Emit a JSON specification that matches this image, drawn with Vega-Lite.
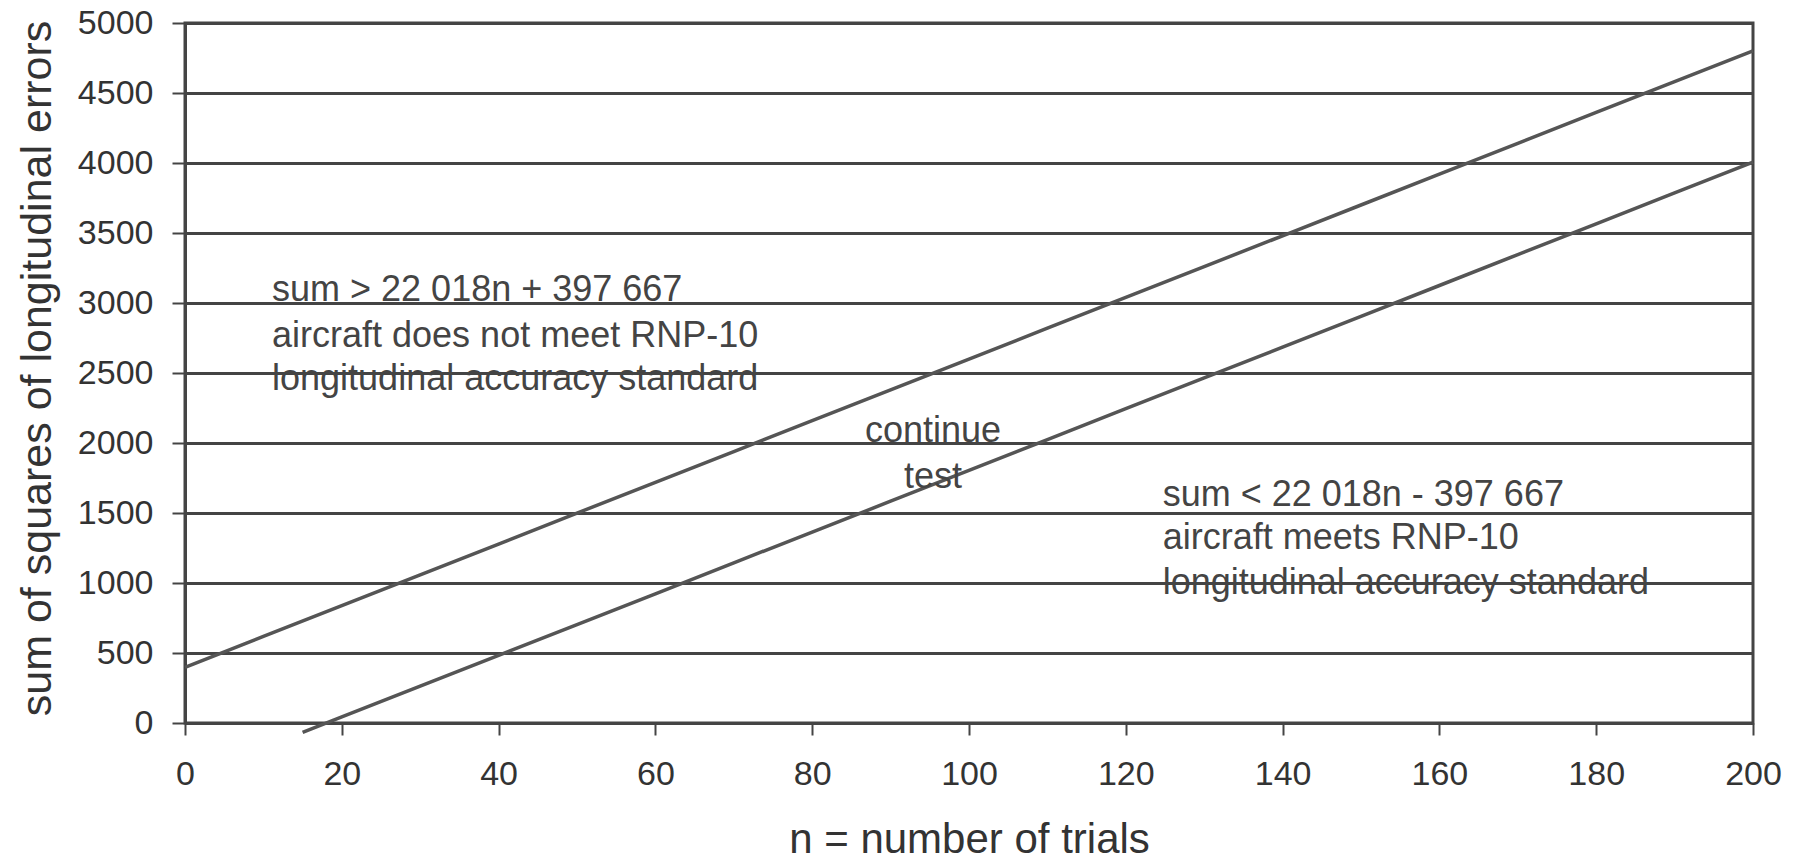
{
  "$schema": "https://vega.github.io/schema/vega-lite/v6.json",
  "width": 1568,
  "height": 700,
  "autosize": {"type": "none"},
  "padding": {"left": 185, "top": 23, "right": 47, "bottom": 141},
  "background": "white",
  "config": {
    "view": {"stroke": "#444", "strokeWidth": 3},
    "font": "Liberation Sans"
  },
  "datasets": {
    "lines": [
      {"n": 0, "sum": 398, "series": "upper"},
      {"n": 10, "sum": 618, "series": "upper"},
      {"n": 20, "sum": 838, "series": "upper"},
      {"n": 30, "sum": 1058, "series": "upper"},
      {"n": 40, "sum": 1278, "series": "upper"},
      {"n": 50, "sum": 1499, "series": "upper"},
      {"n": 60, "sum": 1719, "series": "upper"},
      {"n": 70, "sum": 1939, "series": "upper"},
      {"n": 80, "sum": 2159, "series": "upper"},
      {"n": 90, "sum": 2379, "series": "upper"},
      {"n": 100, "sum": 2599, "series": "upper"},
      {"n": 110, "sum": 2820, "series": "upper"},
      {"n": 120, "sum": 3040, "series": "upper"},
      {"n": 130, "sum": 3260, "series": "upper"},
      {"n": 140, "sum": 3480, "series": "upper"},
      {"n": 150, "sum": 3700, "series": "upper"},
      {"n": 160, "sum": 3920, "series": "upper"},
      {"n": 170, "sum": 4141, "series": "upper"},
      {"n": 180, "sum": 4361, "series": "upper"},
      {"n": 190, "sum": 4581, "series": "upper"},
      {"n": 200, "sum": 4801, "series": "upper"},
      {"n": 15, "sum": -67, "series": "lower"},
      {"n": 20, "sum": 43, "series": "lower"},
      {"n": 30, "sum": 263, "series": "lower"},
      {"n": 40, "sum": 483, "series": "lower"},
      {"n": 50, "sum": 703, "series": "lower"},
      {"n": 60, "sum": 923, "series": "lower"},
      {"n": 70, "sum": 1144, "series": "lower"},
      {"n": 80, "sum": 1364, "series": "lower"},
      {"n": 90, "sum": 1584, "series": "lower"},
      {"n": 100, "sum": 1804, "series": "lower"},
      {"n": 110, "sum": 2024, "series": "lower"},
      {"n": 120, "sum": 2245, "series": "lower"},
      {"n": 130, "sum": 2465, "series": "lower"},
      {"n": 140, "sum": 2685, "series": "lower"},
      {"n": 150, "sum": 2905, "series": "lower"},
      {"n": 160, "sum": 3125, "series": "lower"},
      {"n": 170, "sum": 3346, "series": "lower"},
      {"n": 180, "sum": 3566, "series": "lower"},
      {"n": 190, "sum": 3786, "series": "lower"},
      {"n": 200, "sum": 4006, "series": "lower"}
    ],
    "notes": [
      {"n": 11.1, "sum": 3014, "label": "sum > 22 018n + 397 667"},
      {"n": 11.1, "sum": 2686, "label": "aircraft does not meet RNP-10"},
      {"n": 11.1, "sum": 2379, "label": "longitudinal accuracy standard"},
      {"n": 124.7, "sum": 1550, "label": "sum < 22 018n - 397 667"},
      {"n": 124.7, "sum": 1243, "label": "aircraft meets RNP-10"},
      {"n": 124.7, "sum": 921, "label": "longitudinal accuracy standard"}
    ],
    "centerNotes": [
      {"n": 95.4, "sum": 2010, "label": "continue"},
      {"n": 95.4, "sum": 1679, "label": "test"}
    ]
  },
  "layer": [
    {
      "data": {"name": "lines"},
      "mark": {"type": "line", "color": "#555", "strokeWidth": 3.5, "clip": false},
      "encoding": {
        "x": {
          "field": "n", "type": "quantitative",
          "scale": {"domain": [0, 200], "nice": false},
          "axis": {
            "values": [0, 20, 40, 60, 80, 100, 120, 140, 160, 180, 200],
            "title": "n = number of trials",
            "grid": false,
            "domainColor": "#444", "domainWidth": 3,
            "tickColor": "#444", "tickWidth": 2, "tickSize": 12,
            "labelFont": "Liberation Sans", "labelFontSize": 34, "labelColor": "#333",
            "labelPadding": 22, "labelFlush": false, "labelOverlap": false,
            "titleFont": "Liberation Sans", "titleFontSize": 42, "titleFontWeight": "normal",
            "titleColor": "#333", "titleBaseline": "alphabetic", "titleY": 129
          }
        },
        "y": {
          "field": "sum", "type": "quantitative",
          "scale": {"domain": [0, 5000], "nice": false, "zero": false},
          "axis": {
            "values": [0, 500, 1000, 1500, 2000, 2500, 3000, 3500, 4000, 4500, 5000],
            "format": "d",
            "title": "sum of squares of longitudinal errors",
            "grid": true, "gridColor": "#444", "gridWidth": 3, "gridOpacity": 1,
            "domainColor": "#444", "domainWidth": 3,
            "tickColor": "#444", "tickWidth": 2, "tickSize": 13,
            "labelFont": "Liberation Sans", "labelFontSize": 34, "labelColor": "#333",
            "labelPadding": 19, "labelFlush": false, "labelOverlap": false,
            "titleFont": "Liberation Sans", "titleFontSize": 43, "titleFontWeight": "normal",
            "titleColor": "#333", "titleAngle": -90, "titleBaseline": "alphabetic",
            "titleAlign": "center", "titleX": -135, "titleY": 345
          }
        },
        "detail": {"field": "series", "type": "nominal"}
      }
    },
    {
      "data": {"name": "notes"},
      "mark": {"type": "text", "align": "left", "baseline": "alphabetic", "font": "Liberation Sans", "fontSize": 36, "color": "#444"},
      "encoding": {
        "x": {"field": "n", "type": "quantitative"},
        "y": {"field": "sum", "type": "quantitative"},
        "text": {"field": "label", "type": "nominal"}
      }
    },
    {
      "data": {"name": "centerNotes"},
      "mark": {"type": "text", "align": "center", "baseline": "alphabetic", "font": "Liberation Sans", "fontSize": 36, "color": "#444"},
      "encoding": {
        "x": {"field": "n", "type": "quantitative"},
        "y": {"field": "sum", "type": "quantitative"},
        "text": {"field": "label", "type": "nominal"}
      }
    }
  ]
}
